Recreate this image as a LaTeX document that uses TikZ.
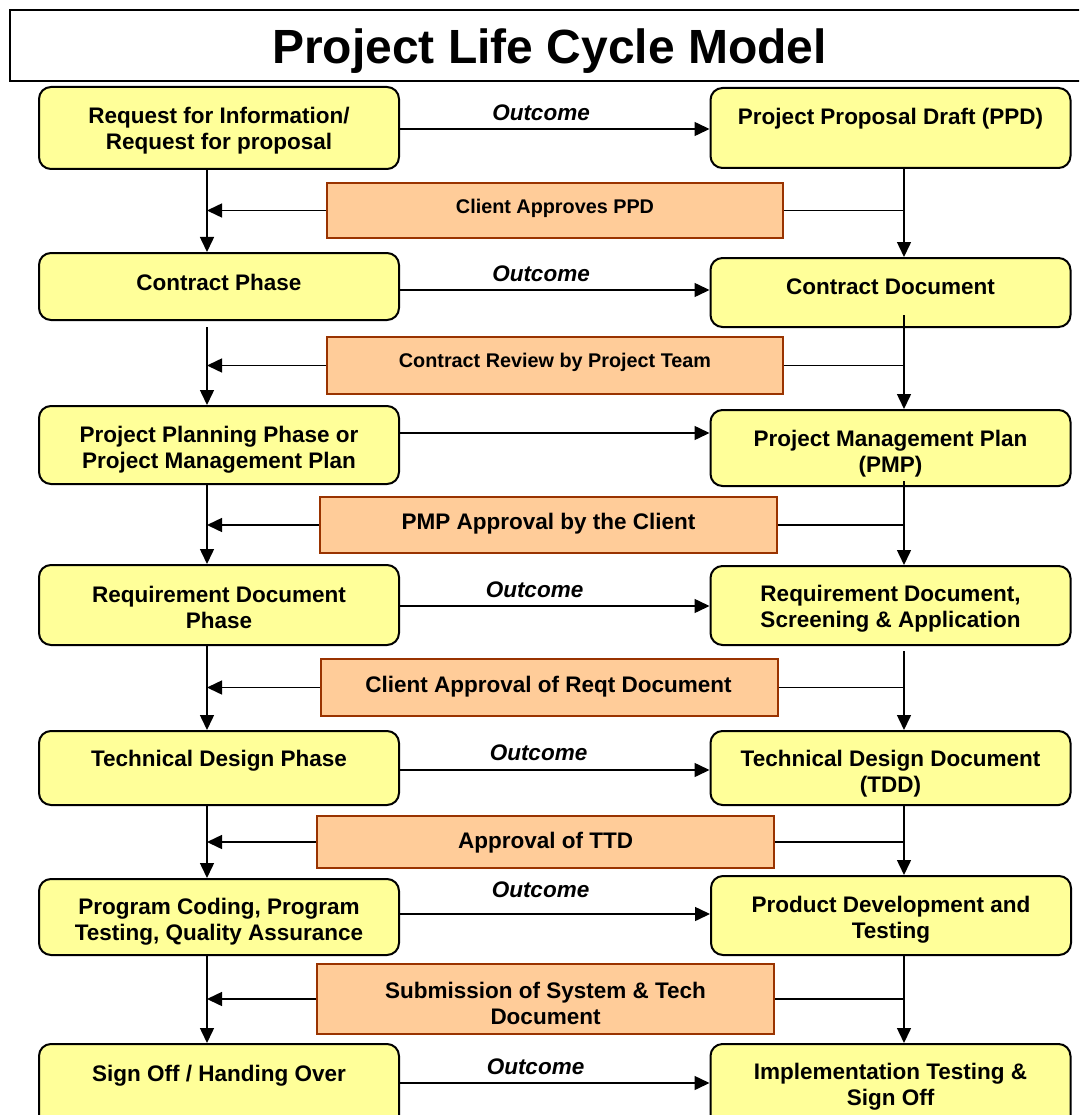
\documentclass[tikz,border=0pt]{standalone}
\usepackage{fontspec}
\setmainfont{Liberation Sans}
\usetikzlibrary{arrows.meta,calc}
\definecolor{boxyellow}{HTML}{FFFF99}
\definecolor{boxorange}{HTML}{FFCC99}
\definecolor{orangeedge}{HTML}{993300}
\begin{document}
\begin{tikzpicture}[x=1pt,y=-1pt,
  ybox/.style={draw=black, line width=2pt, fill=boxyellow, rounded corners=12pt, minimum width=360pt, inner sep=0pt},
  obox/.style={draw=orangeedge, line width=2pt, fill=boxorange, minimum width=457pt, inner sep=0pt},
  btxt/.style={font=\fontsize{22.5}{26}\selectfont\bfseries, align=center, inner sep=0pt},
  stxt/.style={font=\fontsize{19.8}{24}\selectfont\bfseries, align=center, inner sep=0pt},
  otxt/.style={font=\fontsize{22.5}{26}\selectfont\bfseries\itshape, inner sep=0pt, anchor=base},
  conn/.style={line width=1.5pt},
  arr/.style={conn, -{Triangle[length=15pt,width=14pt]}}
]
\clip (0,0) rectangle (1079,1115);
\fill[white] (0,0) rectangle (1079,1115);

% title
\node[draw, line width=2pt, minimum width=1100pt, minimum height=71pt, anchor=north west, inner sep=0pt] (tbox) at (8.7,9.3) {};
\node[font=\fontsize{48}{56}\selectfont\bfseries, anchor=base, inner sep=0pt] (ttl) at (549.5,64) {Project Life Cycle Model};

\coordinate (lx) at (207,0);
\coordinate (rx) at (904,0);

% yellow boxes
\node[ybox, minimum height=82pt] (l1) at (219,128) {};
\node[ybox, minimum height=80pt] (r1) at (890.5,128) {};
\node[ybox, minimum height=67pt] (l2) at (219,286.5) {};
\node[ybox, minimum height=69pt] (r2) at (890.5,292.5) {};
\node[ybox, minimum height=78pt] (l3) at (219,445) {};
\node[ybox, minimum height=76pt] (r3) at (890.5,448) {};
\node[ybox, minimum height=80pt] (l4) at (219,605) {};
\node[ybox, minimum height=79pt] (r4) at (890.5,605.5) {};
\node[ybox, minimum height=74pt] (l5) at (219,768) {};
\node[ybox, minimum height=74pt] (r5) at (890.5,768) {};
\node[ybox, minimum height=76pt] (l6) at (219,917) {};
\node[ybox, minimum height=79pt] (r6) at (891,915.5) {};
\node[ybox, minimum height=92pt] (l7) at (219,1090) {};
\node[ybox, minimum height=92pt] (r7) at (890.5,1090) {};

% orange boxes
\node[obox, minimum width=456pt, minimum height=55pt] (o1) at (555,210.5) {};
\node[obox, minimum width=456pt, minimum height=57pt] (o2) at (555,365.5) {};
\node[obox, minimum height=56pt] (o3) at (548.5,525) {};
\node[obox, minimum height=57pt] (o4) at (549,687.5) {};
\node[obox, minimum height=52pt] (o5) at (545.5,842) {};
\node[obox, minimum height=70pt] (o6) at (545.5,999) {};

% texts
\node[btxt] (l1t) at (219,130.5) {Request for Information/\\Request for proposal};
\node[btxt, anchor=base] (r1t) at (890.5,125) {Project Proposal Draft (PPD)};
\node[btxt, anchor=base] (l2t) at (219,290) {Contract Phase};
\node[btxt, anchor=base] (r2t) at (890.5,294) {Contract Document};
\node[btxt] (l3t) at (219,450) {Project Planning Phase or\\Project Management Plan};
\node[btxt] (r3t) at (890.5,453.5) {Project Management Plan\\(PMP)};
\node[btxt] (l4t) at (219,607.5) {Requirement Document\\Phase};
\node[btxt] (r4t) at (890.5,608.5) {Requirement Document,\\Screening \& Application};
\node[btxt, anchor=base] (l5t) at (219,766) {Technical Design Phase};
\node[btxt] (r5t) at (890.5,773.5) {Technical Design Document\\(TDD)};
\node[btxt] (l6t) at (219,921.5) {Program Coding, Program\\Testing, Quality Assurance};
\node[btxt] (r6t) at (891,919.5) {Product Development and\\Testing};
\node[btxt, anchor=base] (l7t) at (219,1081) {Sign Off / Handing Over};
\node[btxt] (r7t) at (890.5,1087) {Implementation Testing \&\\Sign Off};

\node[stxt, anchor=base] (o1t) at (555,214) {Client Approves PPD};
\node[stxt, anchor=base] (o2t) at (555,367) {Contract Review by Project Team};
\node[btxt, anchor=base] (o3t) at (548.5,529.5) {PMP Approval by the Client};
\node[btxt, anchor=base] (o4t) at (548.5,692) {Client Approval of Reqt Document};
\node[btxt, anchor=base] (o5t) at (545.5,848) {Approval of TTD};
\node[btxt] (o6t) at (545.5,1003.5) {Submission of System \& Tech\\Document};

\node[otxt] (oc1) at (541,121) {Outcome};
\node[otxt] (oc2) at (541,281) {Outcome};
\node[otxt] (oc4) at (534.5,597) {Outcome};
\node[otxt] (oc5) at (538.5,760) {Outcome};
\node[otxt] (oc6) at (540.5,897) {Outcome};
\node[otxt] (oc7) at (535.5,1074) {Outcome};

% horizontal outcome arrows
\coordinate (h1) at (555,129);
\coordinate (h2) at (555,290);
\coordinate (h3) at (555,433);
\coordinate (h4) at (555,606);
\coordinate (h5) at (555,770);
\coordinate (h6) at (555,914);
\coordinate (h7) at (555,1083);
\draw[arr] (l1.east |- h1) -- (r1.west |- h1);
\draw[arr] (l2.east |- h2) -- (r2.west |- h2);
\draw[arr] (l3.east |- h3) -- (r3.west |- h3);
\draw[arr] (l4.east |- h4) -- (r4.west |- h4);
\draw[arr] (l5.east |- h5) -- (r5.west |- h5);
\draw[arr] (l6.east |- h6) -- (r6.west |- h6);
\draw[arr] (l7.east |- h7) -- (r7.west |- h7);

% left verticals
\draw[arr] (l1.south -| lx) -- (l2.north -| lx);
\draw[arr] ($(l2.south -| lx)+(0,6)$) -- (l3.north -| lx);
\draw[arr] (l3.south -| lx) -- (l4.north -| lx);
\draw[arr] (l4.south -| lx) -- (l5.north -| lx);
\draw[arr] (l5.south -| lx) -- (l6.north -| lx);
\draw[arr] (l6.south -| lx) -- (l7.north -| lx);

% right verticals
\draw[arr] (r1.south -| rx) -- (r2.north -| rx);
\draw[arr] ($(r2.south -| rx)+(0,-13)$) -- (r3.north -| rx);
\draw[arr] ($(r3.south -| rx)+(0,-6)$) -- (r4.north -| rx);
\draw[arr] ($(r4.south -| rx)+(0,5)$) -- (r5.north -| rx);
\draw[arr] (r5.south -| rx) -- (r6.north -| rx);
\draw[arr] (r6.south -| rx) -- (r7.north -| rx);

% approval connectors
\foreach \o in {o1,o2,o3,o4,o5,o6}{
  \draw[arr] (\o.west) -- (\o.west -| lx);
  \draw[conn] (\o.east) -- (\o.east -| rx);
}
\end{tikzpicture}
\end{document}
